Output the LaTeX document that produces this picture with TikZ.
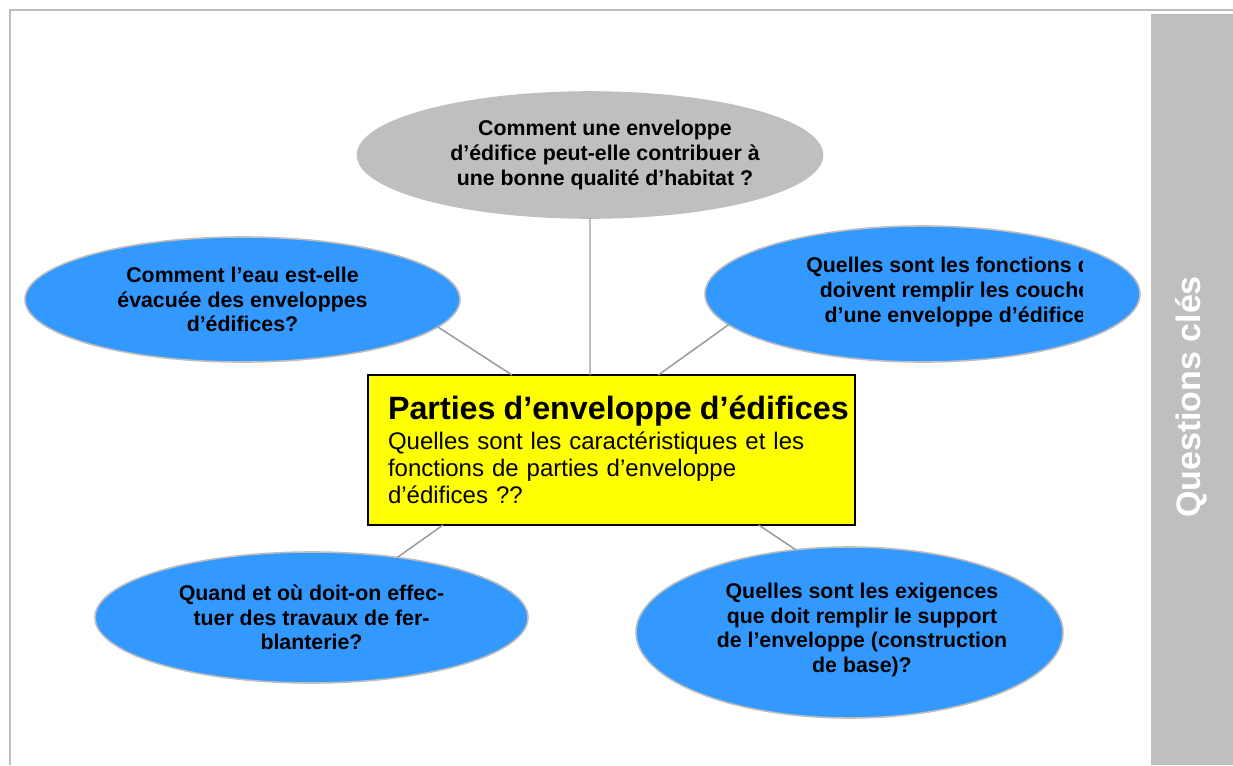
\documentclass[tikz,border=0pt]{standalone}
\usepackage{fontspec}
\setmainfont{Liberation Sans}
\usepackage{tikz}
\usetikzlibrary{shapes.geometric, positioning}
\definecolor{bubbleblue}{HTML}{3399FF}
\definecolor{bubblegray}{HTML}{BFBFBF}
\definecolor{rimgray}{HTML}{BDBDBD}
\definecolor{linkgray}{HTML}{999999}
\definecolor{boxyellow}{HTML}{FFFF00}
\tikzset{
question/.style={ellipse, draw=rimgray, line width=1.2pt, fill=bubbleblue, inner sep=0pt, outer sep=0pt, align=center, font=\fontsize{16}{18.4}\selectfont\bfseries}, % blue question bubbles
mainquestion/.style={question, fill=bubblegray, draw=bubblegray}, % the gray one on top
qtext/.style={align=center, inner sep=0pt, font=\fontsize{16}{18.4}\selectfont\bfseries}, % text of a bubble that gets cut off
keybox/.style={rectangle, draw=black, line width=1.2pt, fill=boxyellow, inner xsep=15pt, inner ysep=0pt, outer sep=0pt, text width=335.25pt, align=left, minimum width=365.25pt, minimum height=112.5pt, font=\fontsize{18}{20.25}\selectfont}, % central box
link/.style={draw=linkgray, line width=1.1pt}, % the spokes
frame/.style={draw=rimgray, line width=1.5pt},
}

\begin{document}
\begin{tikzpicture}[x=0.75pt, y=-0.75pt]
    \useasboundingbox (0,0) rectangle (1233,765);
    \draw[frame] (10,765) -- (10,10) -- (1233,10);
    \fill[bubblegray] (1151,14) rectangle (1233,765);
    \node[rotate=90, text=white, font=\fontsize{25.5}{30}\selectfont\bfseries] (side_title) at (1191,397) {Questions clés};

    \node[keybox] (box) at (611.5,450) {\mbox{\fontsize{24.2}{28}\selectfont\bfseries Parties d’enveloppe d’édifices}\\[2pt]
        Quelles sont les caractéristiques et les\\ fonctions de parties d’enveloppe\\ d’édifices ??\par\vspace{6pt}};

    \node[mainquestion, minimum width=348.75pt, minimum height=94.5pt] (T) at (590,155) {};
    \node[question, minimum width=326.25pt, minimum height=93.75pt] (L) at (242.5,299.5) {Comment l’eau est-elle\\ évacuée des enveloppes\\ d’édifices?};
    \node[question, minimum width=326.25pt, minimum height=102pt] (R) at (922.5,294) {};
    \node[question, minimum width=324.75pt, minimum height=98.25pt] (BL) at (311.5,617.5) {Quand et où doit-on effec-\\ tuer des travaux de fer-\\ blanterie?};
    \node[question, minimum width=320.25pt, minimum height=128.25pt] (BR) at (849.5,632.5) {};

    % texts that run past their bubble are cut off
    \begin{scope}
        \clip (0,0) rectangle (760,765);
        \node[qtext] (T_text) at (605,155) {Comment une enveloppe\\ d’édifice peut-elle contribuer à\\ une bonne qualité d’habitat ?};
    \end{scope}
    \begin{scope}
        \clip (0,0) rectangle (1082,765);
        \node[qtext] (R_text) at (961,292) {Quelles sont les fonctions que\\ doivent remplir les couches\\ d’une enveloppe d’édifices};
    \end{scope}
    \begin{scope}
        \clip (0,0) rectangle (1005,765);
        \node[qtext] (BR_text) at (862,630) {Quelles sont les exigences\\ que doit remplir le support\\ de l’enveloppe (construction\\ de base)?};
    \end{scope}

    \draw[link]
        (T.south) -- (T.south |- box.north)
        (L.-8) -- (box.143.5)
        (R.-171.6) -- (box.58.8)
        (box.204) -- (BL.35.2)
        (box.-27.3) -- (BR.123.8);
\end{tikzpicture}
\end{document}
